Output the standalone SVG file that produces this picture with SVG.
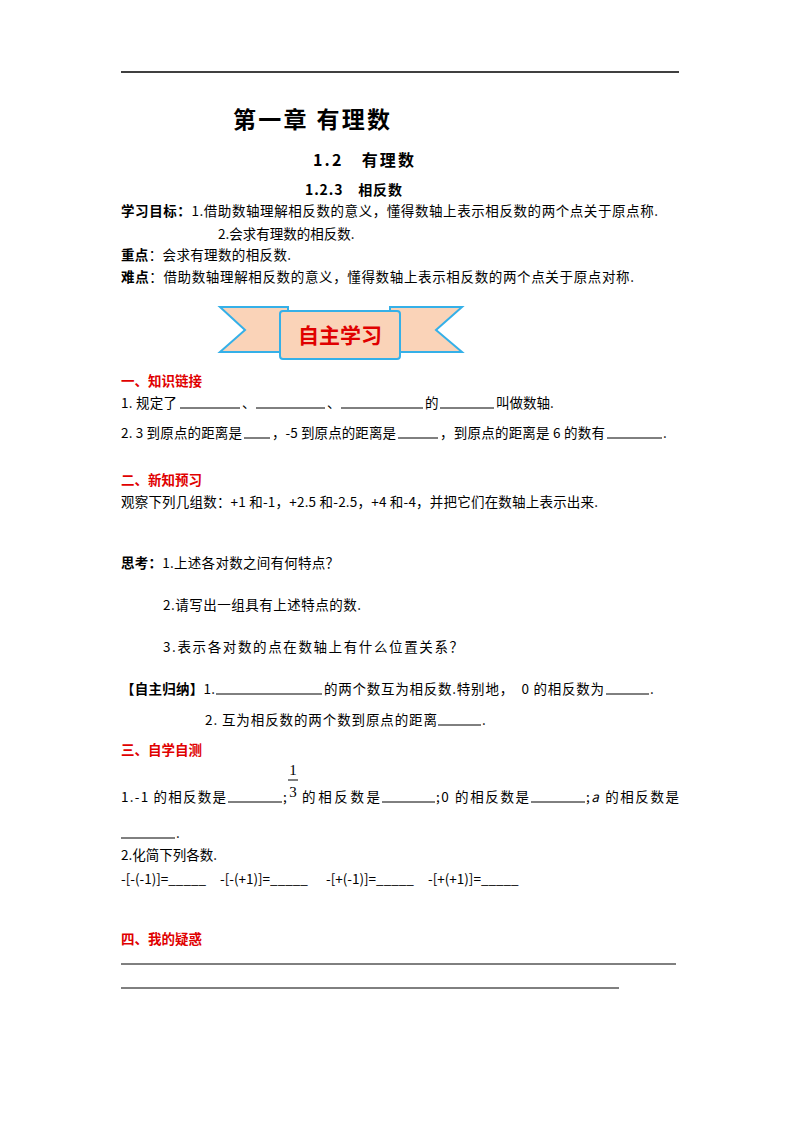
<svg xmlns="http://www.w3.org/2000/svg" width="800" height="1132" viewBox="0 0 800 1132">
<style>
text{font-family:"Noto Sans CJK SC","Liberation Sans",sans-serif;font-size:13.5px;fill:#000}
.b{font-weight:bold}
.r{fill:#e00000;font-weight:bold}
.u{stroke:#000;stroke-width:1}
</style>
<rect width="800" height="1132" fill="#fff"/>
<line x1="121" y1="72" x2="679" y2="72" stroke="#000" stroke-width="1.5"/>
<text x="233" y="128" class="b" style="font-size:23px" textLength="157">第一章 有理数</text>
<text x="313" y="166" class="b" style="font-size:16px" textLength="101">1.2　有理数</text>
<text x="305" y="195" class="b" style="font-size:14px" textLength="97">1.2.3　相反数</text>
<text x="121" y="216" textLength="537"><tspan class="b">学习目标：</tspan>1.借助数轴理解相反数的意义，懂得数轴上表示相反数的两个点关于原点称.</text>
<text x="218" y="239">2.会求有理数的相反数.</text>
<text x="121" y="260" textLength="170"><tspan class="b">重点</tspan>：会求有理数的相反数.</text>
<text x="121" y="282" textLength="513"><tspan class="b">难点</tspan>：借助数轴理解相反数的意义，懂得数轴上表示相反数的两个点关于原点对称.</text>
<g id="banner">
<polygon points="220,307 288,307 288,352 220,352 245,330" fill="#fad3b8" stroke="#35b0e8" stroke-width="2"/>
<polygon points="462,307 390,307 390,352 462,352 436,330" fill="#fad3b8" stroke="#35b0e8" stroke-width="2"/>
<rect x="280" y="311" width="120" height="48" rx="3" fill="#fad3b8" stroke="#35b0e8" stroke-width="2"/>
<text x="340" y="343" text-anchor="middle" class="r" style="font-size:21px">自主学习</text>
</g>
<text x="121" y="386" class="r">一、知识链接</text>
<text x="121" y="408" textLength="56">1. 规定了</text><line class="u" x1="180" y1="408" x2="240" y2="408"/>
<text x="242" y="408">、</text><line class="u" x1="256" y1="408" x2="325" y2="408"/>
<text x="327" y="408">、</text><line class="u" x1="341" y1="408" x2="423" y2="408"/>
<text x="425" y="408">的</text><line class="u" x1="440" y1="408" x2="494" y2="408"/>
<text x="496" y="408">叫做数轴.</text>
<text x="121" y="438" textLength="121">2. 3 到原点的距离是</text><line class="u" x1="244" y1="438" x2="270" y2="438"/>
<text x="272" y="438" textLength="124">，-5 到原点的距离是</text><line class="u" x1="398" y1="438" x2="438" y2="438"/>
<text x="440" y="438" textLength="165">，到原点的距离是 6 的数有</text><line class="u" x1="607" y1="438" x2="662" y2="438"/><text x="663" y="438">.</text>
<text x="121" y="485" class="r">二、新知预习</text>
<text x="121" y="507" textLength="477">观察下列几组数：+1 和-1，+2.5 和-2.5，+4 和-4，并把它们在数轴上表示出来.</text>
<text x="121" y="568" textLength="218"><tspan class="b">思考：</tspan>1.上述各对数之间有何特点？</text>
<text x="163" y="610" textLength="198">2.请写出一组具有上述特点的数.</text>
<text x="163" y="652" textLength="300">3.表示各对数的点在数轴上有什么位置关系？</text>
<text x="121" y="694" textLength="94"><tspan class="b">【自主归纳】</tspan>1.</text><line class="u" x1="216" y1="694" x2="322" y2="694"/>
<text x="324" y="694" textLength="280">的两个数互为相反数.特别地，　0 的相反数为</text><line class="u" x1="606" y1="694" x2="649" y2="694"/><text x="650" y="694">.</text>
<text x="205" y="725" textLength="232">2. 互为相反数的两个数到原点的距离</text><line class="u" x1="438" y1="725" x2="481" y2="725"/><text x="482" y="725">.</text>
<text x="121" y="755" class="r">三、自学自测</text>
<text x="121" y="802" textLength="105">1.-1 的相反数是</text><line class="u" x1="228" y1="802" x2="282" y2="802"/><text x="283" y="802">;</text>
<text x="293" y="775" text-anchor="middle" style="font-family:'Liberation Serif',serif;font-size:15px">1</text>
<line class="u" x1="288" y1="780" x2="298" y2="780"/>
<text x="293" y="797" text-anchor="middle" style="font-family:'Liberation Serif',serif;font-size:15px">3</text>
<text x="302" y="802" textLength="78">的相反数是</text><line class="u" x1="382" y1="802" x2="435" y2="802"/>
<text x="436" y="802" textLength="93">;0 的相反数是</text><line class="u" x1="531" y1="802" x2="585" y2="802"/>
<text x="586" y="802" textLength="93">;<tspan font-style="italic">a</tspan> 的相反数是</text>
<line class="u" x1="121" y1="838" x2="175" y2="838"/><text x="176" y="838">.</text>
<text x="121" y="860">2.化简下列各数.</text>
<text x="121" y="884">-[-(-1)]=_____</text>
<text x="220" y="884">-[-(+1)]=_____</text>
<text x="326" y="884">-[+(-1)]=_____</text>
<text x="428" y="884">-[+(+1)]=_____</text>
<text x="121" y="944" class="r">四、我的疑惑</text>
<line class="u" x1="121" y1="964" x2="676" y2="964"/>
<line class="u" x1="121" y1="988" x2="619" y2="988"/>
</svg>
